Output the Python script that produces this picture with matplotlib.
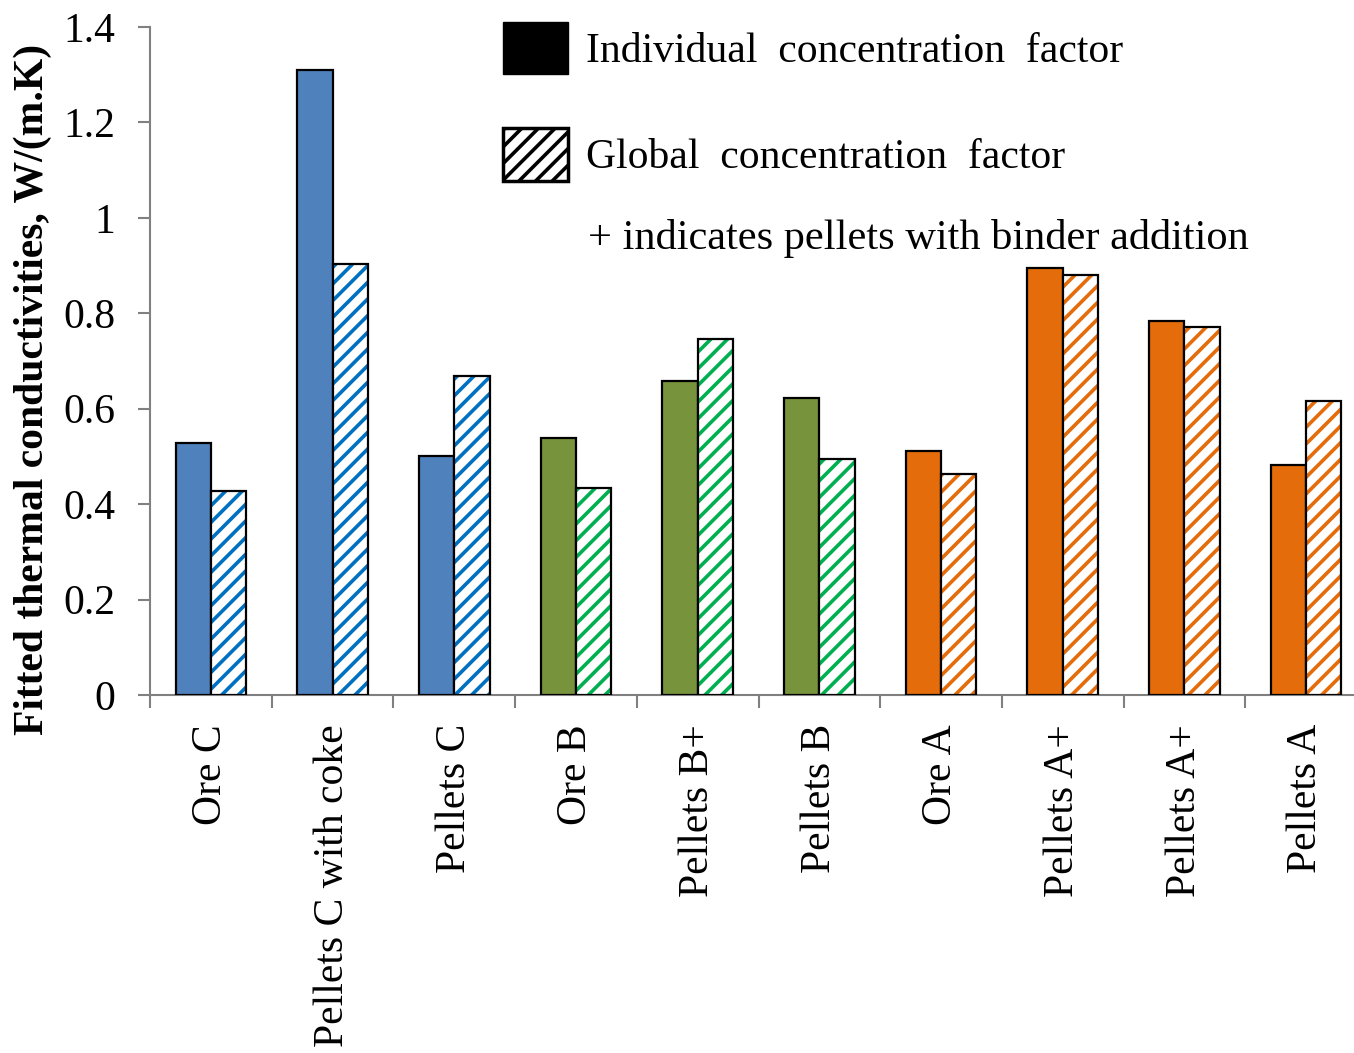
import numpy as np
import matplotlib
matplotlib.use("Agg")
import matplotlib.pyplot as plt
from matplotlib.patches import Patch

# data
categories = ["Ore C", "Pellets C with coke", "Pellets C", "Ore B", "Pellets B+",
              "Pellets B", "Ore A", "Pellets A+", "Pellets A+", "Pellets A"]
individual = [0.528, 1.31, 0.50, 0.539, 0.658, 0.622, 0.511, 0.895, 0.784, 0.482]
global_cf = [0.428, 0.903, 0.669, 0.434, 0.746, 0.495, 0.463, 0.880, 0.771, 0.616]
ore_group = ["C", "C", "C", "B", "B", "B", "A", "A", "A", "A"]

solid_colors = {"C": "#4F81BD", "B": "#77933C", "A": "#E46C0A"}
hatch_colors = {"C": "#0070C0", "B": "#00B050", "A": "#E46C0A"}

plt.rcParams["font.family"] = ["Liberation Serif", "DejaVu Serif"]
plt.rcParams["hatch.linewidth"] = 2.6

fig = plt.figure(figsize=(13.54, 10.53), dpi=100)
ax = fig.add_axes([150 / 1354, 358 / 1053, 1204 / 1354, 668 / 1053])

x = np.arange(len(categories))
w = 0.29
edge_lw = 1.6

ax.bar(x - w / 2, individual, w,
       color=[solid_colors[g] for g in ore_group],
       edgecolor="black", linewidth=edge_lw, zorder=3)

# hatched bars: hatch drawn in group colour, outline drawn on top in black
for xi, val, g in zip(x, global_cf, ore_group):
    ax.bar(xi + w / 2, val, w, color="white", edgecolor=hatch_colors[g],
           hatch="//", linewidth=0, zorder=3)
ax.bar(x + w / 2, global_cf, w, fill=False, edgecolor="black",
       linewidth=edge_lw, zorder=4)

ax.set_ylim(0, 1.4)
ax.set_xlim(-0.5, 9.5 - 13 / 121.5)
ax.set_yticks(np.arange(0, 1.41, 0.2))
ax.set_yticklabels(["0", "0.2", "0.4", "0.6", "0.8", "1", "1.2", "1.4"])
ax.tick_params(axis="y", labelsize=30, length=9, width=1.5, color="#808080",
               pad=16)

ax.set_xticks(x)
ax.set_xticklabels(categories, rotation=90, va="top", ha="center")
ax.set_xticks(np.arange(-0.5, 9.5, 1.0), minor=True)
ax.tick_params(axis="x", which="major", labelsize=30, length=0, pad=21)
ax.tick_params(axis="x", which="minor", length=9, width=1.5, color="#808080")

for side in ["top", "right"]:
    ax.spines[side].set_visible(False)
for side in ["left", "bottom"]:
    ax.spines[side].set_color("#808080")
    ax.spines[side].set_linewidth(1.5)

ax.set_ylabel("Fitted thermal conductivities, W/(m.K)", fontsize=30,
              fontweight="bold")
ax.yaxis.set_label_coords(-0.081, 0.457)

handles = [Patch(facecolor="black", edgecolor="black"),
           Patch(facecolor="white", edgecolor="black", hatch="//",
                 linewidth=2.5)]
fig.legend(handles, ["Individual  concentration  factor",
                     "Global  concentration  factor"],
           loc="upper left", bbox_to_anchor=(503 / 1354, 1 - 22 / 1053),
           frameon=False, fontsize=30, handlelength=1.55, handleheight=1.55,
           handletextpad=0.45, labelspacing=1.3, borderpad=0,
           borderaxespad=0)
fig.text(588 / 1354, 1 - 238 / 1053,
         "+ indicates pellets with binder addition", fontsize=30.5,
         va="center", ha="left")

fig.savefig("out.png", dpi=100)
